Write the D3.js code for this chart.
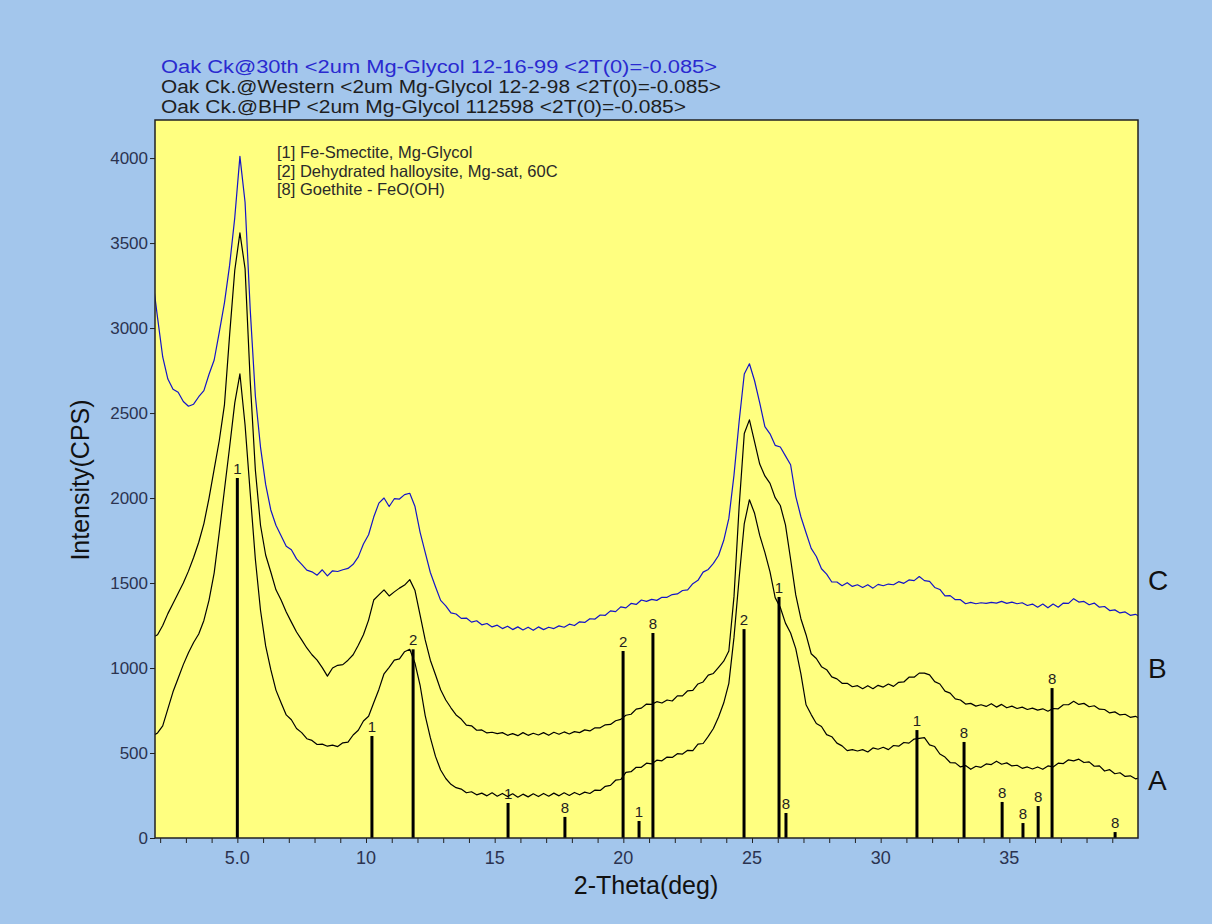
<!DOCTYPE html>
<html>
<head>
<meta charset="utf-8">
<script src="https://cdn.jsdelivr.net/npm/d3@7"></script>
<style>
  html, body { margin: 0; padding: 0; background: #a3c6ec; }
  svg { display: block; font-family: "Liberation Sans", Arial, sans-serif; }
</style>
</head>
<body>
<div id="chart"></div>
<script>
// scan grid (deg 2-theta)
const scanStart = 1.7;
const scanStep = 0.2;

// measured patterns, counts per second
const seriesC = [
  3300, 3060, 2830, 2700, 2640,
  2622, 2568, 2540, 2552, 2596,
  2632, 2728, 2812, 2978, 3150,
  3370, 3650, 4010, 3740, 3110,
  2600, 2300, 2080, 1930, 1840,
  1778, 1716, 1696, 1642, 1610,
  1576, 1566, 1546, 1578, 1542,
  1572, 1568, 1578, 1586, 1610,
  1654, 1730, 1784, 1888, 1970,
  2000, 1950, 1996, 1994, 2020,
  2028, 1952, 1800, 1680, 1562,
  1478, 1398, 1366, 1324, 1318,
  1292, 1294, 1270, 1278, 1254,
  1262, 1242, 1252, 1232, 1246,
  1226, 1242, 1224, 1240, 1222,
  1242, 1226, 1240, 1232, 1248,
  1240, 1258, 1250, 1272, 1268,
  1290, 1288, 1312, 1310, 1336,
  1332, 1360, 1354, 1380, 1374,
  1400, 1392, 1404, 1398, 1416,
  1416, 1432, 1436, 1456, 1460,
  1496, 1516, 1564, 1580, 1616,
  1662, 1750, 1880, 2135, 2450,
  2730, 2790, 2690, 2560, 2420,
  2378, 2310, 2300, 2248, 2196,
  2010, 1890, 1796, 1704, 1656,
  1584, 1552, 1506, 1506, 1484,
  1502, 1480, 1490, 1474, 1490,
  1470, 1492, 1484, 1494, 1490,
  1508, 1498, 1518, 1514, 1538,
  1514, 1510, 1474, 1462, 1424,
  1426, 1402, 1402, 1378, 1386,
  1378, 1384, 1380, 1386, 1382,
  1392, 1380, 1388, 1378, 1384,
  1368, 1376, 1358, 1376, 1354,
  1376, 1358, 1382, 1380, 1408,
  1388, 1392, 1372, 1382, 1358,
  1362, 1338, 1342, 1324, 1330,
  1310, 1316, 1300
];

const seriesB = [
  1180, 1196, 1250, 1320, 1380,
  1440, 1500, 1570, 1650, 1740,
  1850, 2000, 2170, 2340, 2550,
  2960, 3340, 3560, 3350, 2690,
  2165, 1840, 1665, 1565, 1460,
  1400, 1330, 1270, 1212, 1166,
  1118, 1078, 1046, 1002, 952,
  1000, 1016, 1020, 1046, 1078,
  1134, 1196, 1282, 1400, 1430,
  1460, 1424, 1448, 1470, 1488,
  1520, 1458, 1312, 1165, 1046,
  960, 872, 812, 766, 724,
  700, 664, 660, 634, 636,
  618, 622, 614, 620, 604,
  614, 602, 620, 604, 616,
  606, 620, 604, 622, 610,
  624, 612, 626, 620, 636,
  630, 648, 648, 666, 668,
  690, 698, 722, 728, 758,
  764, 788, 786, 802, 794,
  812, 806, 836, 836, 866,
  868, 906, 918, 958, 968,
  1004, 1040, 1100, 1420, 1950,
  2380, 2460, 2330, 2200, 2130,
  2086, 2002, 1956, 1842, 1640,
  1430, 1290, 1196, 1084, 1056,
  1008, 990, 948, 936, 910,
  910, 890, 896, 878, 896,
  878, 898, 888, 906, 892,
  916, 918, 946, 946, 970,
  970, 960, 920, 906, 864,
  852, 818, 812, 788, 792,
  776, 784, 774, 790, 770,
  786, 766, 776, 762, 770,
  756, 764, 752, 760, 746,
  762, 760, 784, 784, 804,
  786, 792, 772, 778, 758,
  756, 736, 742, 724, 728,
  710, 716, 700
];

const seriesA = [
  600, 618, 660, 760, 860,
  940, 1020, 1090, 1150, 1200,
  1280, 1400, 1560, 1800, 2050,
  2300, 2560, 2730, 2430, 2030,
  1640, 1340, 1130, 990, 870,
  796, 724, 696, 644, 620,
  584, 574, 550, 552, 540,
  546, 538, 560, 564, 606,
  634, 688, 716, 796, 874,
  966, 1004, 1046, 1054, 1096,
  1110, 1030, 900, 720, 590,
  480, 400, 350, 316, 296,
  288, 266, 272, 254, 264,
  248, 266, 246, 262, 244,
  260, 240, 258, 242, 260,
  244, 262, 246, 264, 248,
  266, 250, 268, 254, 270,
  262, 282, 280, 304, 310,
  340, 344, 386, 390, 416,
  416, 440, 436, 458, 454,
  476, 474, 496, 494, 516,
  514, 552, 556, 598, 644,
  712, 794, 910, 1180, 1530,
  1850, 1990, 1910, 1780, 1680,
  1566, 1414, 1356, 1264, 1206,
  1114, 966, 784, 726, 674,
  656, 608, 596, 558, 542,
  514, 520, 512, 520, 506,
  530, 522, 534, 520, 544,
  540, 562, 558, 582, 586,
  590, 548, 538, 494, 476,
  444, 442, 418, 426, 404,
  422, 416, 436, 432, 452,
  434, 442, 424, 428, 410,
  418, 406, 418, 404, 424,
  418, 440, 438, 460, 454,
  464, 444, 448, 422, 424,
  394, 402, 378, 384, 362,
  366, 348, 354
];

const seriesNames = ["C", "B", "A"];
const seriesColors = ["#1414c8", "#000000", "#000000"];
const seriesLabelAt = [1518, 1000, 341];

const titleLines = [
  "Oak Ck@30th <2um Mg-Glycol 12-16-99 <2T(0)=-0.085>",
  "Oak Ck.@Western <2um Mg-Glycol 12-2-98 <2T(0)=-0.085>",
  "Oak Ck.@BHP <2um Mg-Glycol 112598 <2T(0)=-0.085>"
];
const titleColors = ["#2a2ad0", "#1e1e1e", "#1e1e1e"];
const titleWidths = [556, 560, 525];

const legendLines = [
  "[1] Fe-Smectite, Mg-Glycol",
  "[2] Dehydrated halloysite, Mg-sat, 60C",
  "[8] Goethite - FeO(OH)"
];

// reference stick pattern
const refPositions = [5.0, 10.23, 11.83, 15.52, 17.73, 19.99, 20.61, 21.15, 24.69, 26.05, 26.32, 31.41, 33.24, 34.72, 35.53, 36.12, 36.66, 39.11];
const refHeights   = [2118, 600, 1110, 206, 124, 1100, 100, 1206, 1229, 1418, 147, 635, 565, 212, 88, 188, 882, 35];
const refLabels    = ["1", "1", "2", "1", "8", "2", "1", "8", "2", "1", "8", "1", "8", "8", "8", "8", "8", "8"];

const xTickValues = [5, 10, 15, 20, 25, 30, 35];
const xTickLabels = ["5.0", "10", "15", "20", "25", "30", "35"];
const yTickValues = [0, 500, 1000, 1500, 2000, 2500, 3000, 3500, 4000];

const width = 1212, height = 924;
const margin = { top: 120, right: 74, bottom: 86, left: 155 };
const plotW = width - margin.left - margin.right;
const plotH = height - margin.top - margin.bottom;

const x = d3.scaleLinear().domain([1.8, 40.0]).range([0, plotW]);
const y = d3.scaleLinear().domain([0, 4224]).range([plotH, 0]);

const svg = d3.select("#chart").append("svg")
  .attr("width", width)
  .attr("height", height);

svg.append("rect")
  .attr("width", width).attr("height", height)
  .attr("fill", "#a3c6ec");

// title lines
svg.append("g")
  .selectAll("text")
  .data(titleLines)
  .join("text")
  .attr("x", 161)
  .attr("y", (d, i) => 73 + i * 20)
  .attr("fill", (d, i) => titleColors[i])
  .attr("textLength", (d, i) => titleWidths[i])
  .attr("lengthAdjust", "spacingAndGlyphs")
  .style("font-size", "18px")
  .text(d => d);

const g = svg.append("g").attr("transform", `translate(${margin.left},${margin.top})`);

svg.append("defs").append("clipPath").attr("id", "plot-clip")
  .append("rect").attr("width", plotW).attr("height", plotH);

g.append("rect")
  .attr("width", plotW).attr("height", plotH)
  .attr("fill", "#ffff80");

// legend
g.append("g")
  .selectAll("text")
  .data(legendLines)
  .join("text")
  .attr("x", 122)
  .attr("y", (d, i) => 38 + i * 18.5)
  .attr("fill", "#2a2a2a")
  .style("font-size", "16.5px")
  .text(d => d);

// sticks
const sticks = g.append("g");
sticks.selectAll("line")
  .data(refPositions)
  .join("line")
  .attr("x1", d => x(d)).attr("x2", d => x(d))
  .attr("y1", y(0))
  .attr("y2", (d, i) => y(refHeights[i]))
  .attr("stroke", "#000")
  .attr("stroke-width", 3);

sticks.selectAll("text")
  .data(refPositions)
  .join("text")
  .attr("x", d => x(d))
  .attr("y", (d, i) => y(refHeights[i]) - 4)
  .attr("text-anchor", "middle")
  .attr("fill", "#222")
  .style("font-size", "15px")
  .text((d, i) => refLabels[i]);

// patterns
const line = d3.line()
  .x((d, i) => x(scanStart + i * scanStep))
  .y(d => y(d));

const curves = g.append("g").attr("clip-path", "url(#plot-clip)");
[seriesA, seriesB, seriesC].forEach((s, j) => {
  const idx = 2 - j;
  curves.append("path")
    .datum(s)
    .attr("fill", "none")
    .attr("stroke", seriesColors[idx])
    .attr("stroke-width", 1.2)
    .attr("stroke-linejoin", "round")
    .attr("d", line);
});

// series letters
g.append("g")
  .selectAll("text")
  .data(seriesNames)
  .join("text")
  .attr("x", plotW + 10)
  .attr("y", (d, i) => y(seriesLabelAt[i]) + 10)
  .attr("fill", "#111")
  .style("font-size", "28px")
  .text(d => d);

// axes
const xAxis = g.append("g")
  .attr("transform", `translate(0,${plotH})`)
  .call(d3.axisBottom(x).tickValues(d3.range(2, 40)).tickSize(5).tickFormat(""));
xAxis.select(".domain").remove();
xAxis.selectAll("line").attr("stroke", "#222");

g.append("g")
  .selectAll("text")
  .data(xTickValues)
  .join("text")
  .attr("x", d => x(d))
  .attr("y", plotH + 26)
  .attr("text-anchor", "middle")
  .attr("fill", "#2b3350")
  .style("font-size", "18px")
  .text((d, i) => xTickLabels[i]);

const yAxis = g.append("g")
  .call(d3.axisLeft(y).tickValues(yTickValues).tickSize(5).tickPadding(2).tickFormat(d3.format("d")));
yAxis.select(".domain").remove();
yAxis.selectAll("line").attr("stroke", "#222");
yAxis.selectAll("text")
  .attr("fill", "#2b3350")
  .style("font-size", "17px")
  .style("font-family", "'Liberation Sans', Arial, sans-serif");

g.append("rect")
  .attr("width", plotW).attr("height", plotH)
  .attr("fill", "none")
  .attr("stroke", "#222")
  .attr("stroke-width", 1.5);

// axis titles
svg.append("text")
  .attr("x", 646).attr("y", 894)
  .attr("text-anchor", "middle")
  .attr("fill", "#111")
  .style("font-size", "25px")
  .text("2-Theta(deg)");

svg.append("text")
  .attr("transform", "translate(89,480) rotate(-90)")
  .attr("text-anchor", "middle")
  .attr("fill", "#111")
  .style("font-size", "25px")
  .text("Intensity(CPS)");
</script>
</body>
</html>
